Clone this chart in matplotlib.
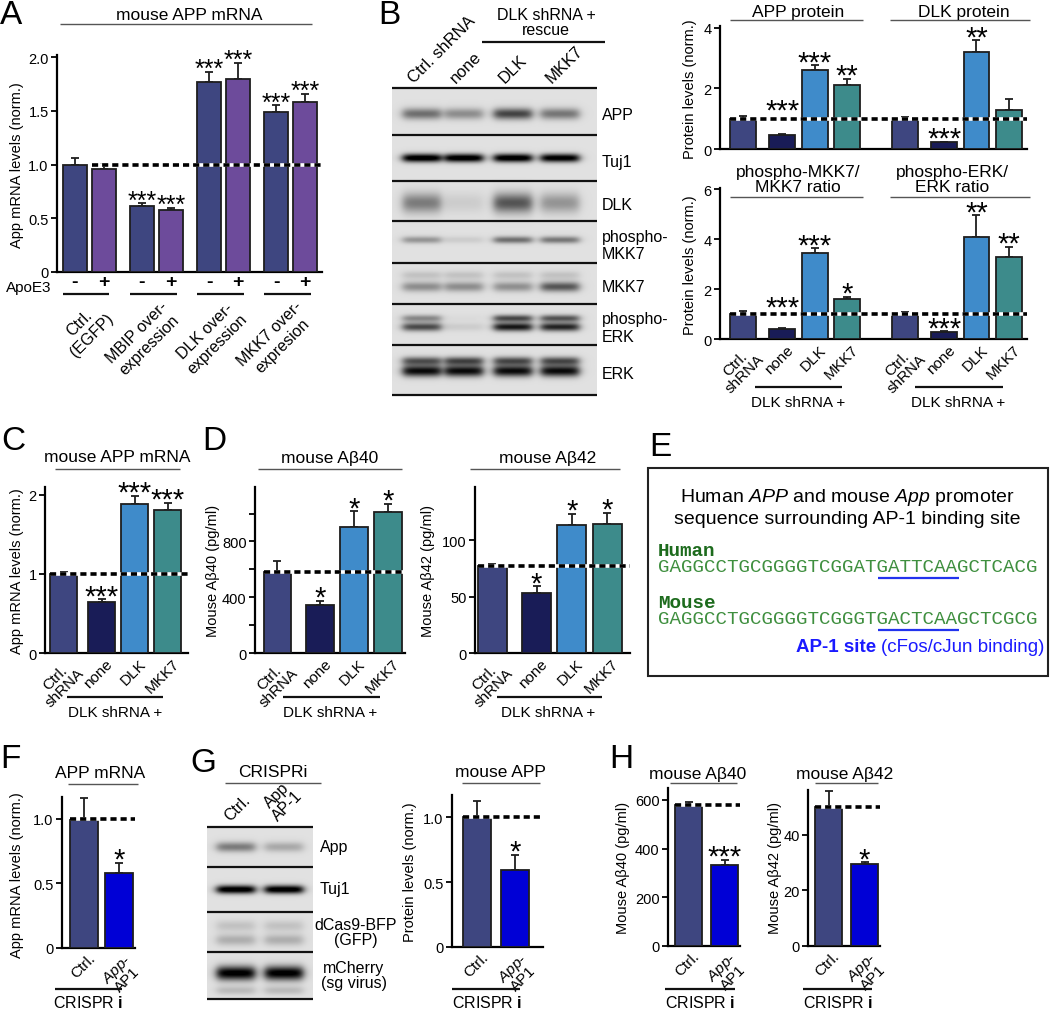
import numpy as np
import matplotlib
matplotlib.use("Agg")
import matplotlib.pyplot as plt
import matplotlib.transforms as mtrans

plt.rcParams['font.family'] = ['Liberation Sans', 'DejaVu Sans']
plt.rcParams['mathtext.fontset'] = 'custom'
plt.rcParams['mathtext.rm'] = 'Liberation Sans'
plt.rcParams['mathtext.it'] = 'Liberation Sans:italic'
plt.rcParams['mathtext.bf'] = 'Liberation Sans:bold'

# ---------------- data ----------------
# A: mouse APP mRNA, -/+ ApoE3
a_groups = ["Ctrl.\n(EGFP)", "MBIP over-\nexpression", "DLK over-\nexpression", "MKK7 over-\nexpresion"]
a_minus = [1.00, 0.61, 1.77, 1.49]
a_minus_err = [0.06, 0.03, 0.09, 0.06]
a_plus = [0.96, 0.58, 1.80, 1.58]
a_plus_err = [0.05, 0.02, 0.15, 0.08]
a_minus_stars = ["", "***", "***", "***"]
a_plus_stars = ["", "***", "***", "***"]

# B: western blot quantification (Ctrl shRNA, none, DLK, MKK7)
rescue_labels = ["Ctrl.\nshRNA", "none", "DLK", "MKK7"]
b_app = [1.00, 0.45, 2.60, 2.10]
b_app_err = [0.10, 0.03, 0.15, 0.20]
b_app_stars = ["", "***", "***", "**"]
b_app_star_y = [None, 1.15, None, None]   # star placed above the dashed line
b_dlk = [1.00, 0.22, 3.20, 1.28]
b_dlk_err = [0.05, 0.02, 0.38, 0.37]
b_dlk_stars = ["", "***", "**", ""]
b_pmkk7 = [1.00, 0.42, 3.45, 1.60]
b_pmkk7_err = [0.12, 0.03, 0.18, 0.10]
b_pmkk7_stars = ["", "***", "***", "*"]
b_pmkk7_star_y = [None, 1.15, None, None]
b_perk = [0.97, 0.28, 4.10, 3.30]
b_perk_err = [0.12, 0.03, 0.85, 0.40]
b_perk_stars = ["", "***", "**", "**"]

# B blot: band darkness per lane
blot_b_rows = ["APP", "Tuj1", "DLK", "phospho-\nMKK7", "MKK7", "phospho-\nERK", "ERK"]
blot_b_lanes = ["Ctrl. shRNA", "none", "DLK", "MKK7"]
band_app = [0.45, 0.33, 0.62, 0.42]
band_tuj1 = [0.97, 0.97, 0.97, 0.94]
band_dlk = [0.40, 0.08, 0.55, 0.30]
band_pmkk7 = [0.30, 0.08, 0.45, 0.42]
band_mkk7 = [0.33, 0.33, 0.32, 0.55]
band_perk_hi = [0.35, 0.02, 0.60, 0.55]
band_perk_lo = [0.60, 0.08, 0.80, 0.75]
band_erk_hi = [0.55, 0.60, 0.58, 0.58]
band_erk_lo = [0.85, 0.85, 0.85, 0.85]

# C / D
c_vals = [1.00, 0.64, 1.88, 1.81]
c_err = [0.03, 0.04, 0.11, 0.09]
c_stars = ["", "***", "***", "***"]
d40_vals = [580, 345, 900, 1010]
d40_err = [80, 30, 115, 60]
d40_stars = ["", "*", "*", "*"]
d42_vals = [77, 53, 113, 114]
d42_err = [2, 6, 10, 10]
d42_stars = ["", "*", "*", "*"]

# E: promoter sequences
seq_human = "GAGGCCTGCGGGGTCGGATGATTCAAGCTCACG"
seq_mouse = "GAGGCCTGCGGGGTCGGGTGACTCAAGCTCGCG"
ap1_start, ap1_end = 19, 26

# F / G / H: CRISPRi
crispr_labels = ["Ctrl.", "$\\mathit{App}$-\nAP1"]
f_vals = [0.99, 0.58]
f_err = [0.17, 0.08]
f_stars = ["", "*"]
g_vals = [1.00, 0.59]
g_err = [0.12, 0.12]
g_stars = ["", "*"]
h40_vals = [580, 333]
h40_err = [12, 22]
h40_stars = ["", "***"]
h42_vals = [50, 29.5]
h42_err = [5.5, 0.5]
h42_stars = ["", "*"]
blot_g_rows = ["App", "Tuj1", "dCas9-BFP\n(GFP)", "mCherry\n(sg virus)"]
blot_g_lanes = ["Ctrl.", "App\nAP-1"]
gband_app = [0.40, 0.22]
gband_tuj1 = [0.97, 0.97]
gband_cas_hi = [0.12, 0.12]
gband_cas_lo = [0.20, 0.20]
gband_mch = [0.92, 0.92]

# colours
C_CTRL = '#3e4680'
C_APOE = '#6d4b9b'
C_NONE = '#191c57'
C_DLK = '#3f8bca'
C_MKK7 = '#3d8b8b'
C_CRI = '#0000d6'
rescue_colors = [C_CTRL, C_NONE, C_DLK, C_MKK7]
crispr_colors = [C_CTRL, C_CRI]

W, H = 1050, 1012
fig = plt.figure(figsize=(W / 100, H / 100), dpi=100)


def mk(box, xlim, ylim, yt, ytl, minor=()):
    x0, y0, x1, y1 = box
    ax = fig.add_axes([x0 / W, 1 - y1 / H, (x1 - x0) / W, (y1 - y0) / H])
    ax.patch.set_alpha(0)
    ax.spines['top'].set_visible(False)
    ax.spines['right'].set_visible(False)
    ax.spines['left'].set_linewidth(1.6)
    ax.spines['bottom'].set_linewidth(1.6)
    ax.set_xlim(*xlim)
    ax.set_ylim(*ylim)
    ax.set_yticks(yt)
    ax.set_yticklabels(ytl)
    if len(minor):
        ax.set_yticks(minor, minor=True)
    ax.tick_params(axis='y', which='both', direction='out', length=4, width=1.3, labelsize=10.5, pad=2)
    ax.tick_params(axis='x', length=0, pad=2)
    return ax


def draw_bars(ax, x, vals, errs, colors, width, stars, ref=None, star_y=None, star_size=21):
    x = np.asarray(x, dtype=float)
    ax.bar(x, vals, width, color=colors, edgecolor='#1e1e1e', linewidth=1.3, zorder=3)
    ax.errorbar(x, vals, yerr=[np.zeros(len(vals)), errs], fmt='none', ecolor='#1e1e1e',
                elinewidth=1.3, capsize=3.2, capthick=1.3, zorder=2)
    if ref is not None:
        xa = x[0] - width / 2
        xb = ax.get_xlim()[1]
        ax.plot([xa, xb], [ref, ref], color='white', lw=2.6, zorder=4, solid_capstyle='butt')
        ax.plot([xa, xb], [ref, ref], color='black', lw=2.6, ls=(0, (1.7, 1.1)), zorder=5)
    if star_y is None:
        star_y = [None] * len(vals)
    for xi, v, e, s, sy in zip(x, vals, errs, stars, star_y):
        if s:
            y = v + e if sy is None else sy
            ax.annotate(s, (xi, y), xytext=(0, -3.5 * star_size / 21), textcoords='offset points',
                        ha='center', va='baseline', fontsize=star_size, zorder=6)


shift = mtrans.ScaledTranslation(4 / 100, 0, fig.dpi_scale_trans)


def xlabels(ax, x, labels, size=11):
    ax.set_xticks(x)
    ax.set_xticklabels(labels, rotation=45, ha='right', rotation_mode='anchor',
                       fontsize=size, multialignment='center', linespacing=0.95)
    for lab in ax.get_xticklabels():
        lab.set_transform(lab.get_transform() + shift)


# ---------------- A ----------------
gap = 2.33
a_x_minus = [g * gap for g in range(4)]
a_x_plus = [g * gap + 1 for g in range(4)]
axA = mk((57, 56, 322, 273), (-0.62, 3 * gap + 1.59), (0, 2.02),
         [0, 0.5, 1.0, 1.5, 2.0], ["0", "0.5", "1.0", "1.5", "2.0"])
draw_bars(axA, a_x_minus, a_minus, a_minus_err, C_CTRL, 0.83, a_minus_stars, star_size=18)
draw_bars(axA, a_x_plus, a_plus, a_plus_err, C_APOE, 0.83, a_plus_stars, ref=1.0, star_size=18)
axA.set_xticks(a_x_minus + a_x_plus)
axA.set_xticklabels(["-"] * 4 + ["+"] * 4, fontsize=14, fontweight='bold')
axA.tick_params(axis='x', pad=1)

# ---------------- B quantification ----------------
b_x = [0, 1.2, 2.2, 3.2, 5, 6.2, 7.2, 8.2]
b_xlim = (-0.72, 8.76)
axB1 = mk((720, 27, 1027, 150), b_xlim, (0, 4.05), [0, 2, 4], ["0", "2", "4"])
draw_bars(axB1, b_x, b_app + b_dlk, b_app_err + b_dlk_err, rescue_colors * 2, 0.8,
          b_app_stars + b_dlk_stars, ref=1.0, star_y=b_app_star_y + [None] * 4)
axB1.set_xticks([])
axB2 = mk((720, 189, 1027, 340), b_xlim, (0, 6.05), [0, 2, 4, 6], ["0", "2", "4", "6"])
draw_bars(axB2, b_x, b_pmkk7 + b_perk, b_pmkk7_err + b_perk_err, rescue_colors * 2, 0.8,
          b_pmkk7_stars + b_perk_stars, ref=1.0, star_y=b_pmkk7_star_y + [None] * 4)
xlabels(axB2, b_x, rescue_labels * 2)

# ---------------- C ----------------
cd_x = [0, 1.15, 2.15, 3.15]
axC = mk((45, 488, 188, 654), (-0.56, 3.76), (0, 2.1), [0, 1, 2], ["0", "1", "2"])
draw_bars(axC, cd_x, c_vals, c_err, rescue_colors, 0.82, c_stars, ref=1.0)
xlabels(axC, cd_x, rescue_labels)

# ---------------- D ----------------
d_x = [0, 1.25, 2.25, 3.25]
axD1 = mk((255, 488, 405, 654), (-0.66, 3.75), (0, 1190), [0, 400, 800], ["0", "400", "800"],
          minor=[200, 600, 1000])
draw_bars(axD1, d_x, d40_vals, d40_err, rescue_colors, 0.82, d40_stars, ref=d40_vals[0])
xlabels(axD1, d_x, rescue_labels)
axD2 = mk((475, 488, 630, 654), (-0.49, 3.89), (0, 147), [0, 50, 100], ["0", "50", "100"])
draw_bars(axD2, d_x, d42_vals, d42_err, rescue_colors, 0.82, d42_stars, ref=d42_vals[0])
xlabels(axD2, d_x, rescue_labels)

# ---------------- F / G / H ----------------
cr_x = [0, 1]
axF = mk((62, 798, 135, 949), (-0.63, 1.46), (0, 1.17), [0, 0.5, 1.0], ["0", "0.5", "1.0"])
draw_bars(axF, cr_x, f_vals, f_err, crispr_colors, 0.8, f_stars, ref=1.0)
xlabels(axF, cr_x, crispr_labels)
axG = mk((452, 796, 543, 948), (-0.66, 1.74), (0, 1.17), [0, 0.5, 1.0], ["0", "0.5", "1.0"])
draw_bars(axG, cr_x, g_vals, g_err, crispr_colors, 0.75, g_stars, ref=1.0)
xlabels(axG, cr_x, crispr_labels)
axH1 = mk((668, 789, 740, 947), (-0.57, 1.43), (0, 649), [0, 200, 400, 600], ["0", "200", "400", "600"])
draw_bars(axH1, cr_x, h40_vals, h40_err, crispr_colors, 0.75, h40_stars, ref=h40_vals[0])
xlabels(axH1, cr_x, crispr_labels)
axH2 = mk((808, 791, 880, 947), (-0.57, 1.43), (0, 56), [0, 20, 40], ["0", "20", "40"])
draw_bars(axH2, cr_x, h42_vals, h42_err, crispr_colors, 0.75, h42_stars, ref=h42_vals[0])
xlabels(axH2, cr_x, crispr_labels)

# ---------------- overlay in pixel coordinates ----------------
ov = fig.add_axes([0, 0, 1, 1])
ov.patch.set_alpha(0)
ov.axis('off')
ov.set_xlim(0, W)
ov.set_ylim(H, 0)
ov.set_autoscale_on(False)


def T(x, y, s, size=11, **kw):
    kw.setdefault('ha', 'center')
    kw.setdefault('va', 'center')
    return ov.text(x, y, s, fontsize=size, **kw)


def L(x0, x1, y, lw=1.0, color='#555555'):
    ov.plot([x0, x1], [y, y], color=color, lw=lw, solid_capstyle='butt')


def blot(x0, x1, bounds, lanes, hw, bands, bg=0.88):
    ys = np.arange(bounds[0], bounds[-1]) + 0.5
    xs = np.arange(x0, x1) + 0.5
    img = np.full((len(ys), len(xs)), bg)
    for row, yfrac, sig, ints in bands:
        yc = bounds[row] + yfrac * (bounds[row + 1] - bounds[row])
        gy = np.exp(-0.5 * ((ys - yc) / sig) ** 2)
        for lx, inten in zip(lanes, ints):
            gx = 1 / (1 + np.exp((np.abs(xs - lx) - hw) / 2.5))
            img -= inten * np.outer(gy, gx)
    img = np.clip(img, 0, 1)
    ov.imshow(img, cmap='gray', vmin=0, vmax=1, extent=(x0, x1, bounds[-1], bounds[0]),
              aspect='auto', interpolation='bilinear')
    for b in bounds:
        L(x0, x1, b, lw=1.6, color='#111111')


letter = dict(size=24)
T(11, 15, "A", **letter)
T(389, 15, "B", **letter)
T(13, 441, "C", **letter)
T(214, 441, "D", **letter)
T(660, 448, "E", **letter)
T(10, 760, "F", **letter)
T(203, 764, "G", **letter)
T(621, 760, "H", **letter)

# A texts
T(189, 15, "mouse APP mRNA", size=12.5)
L(60, 312, 25)
T(17, 165, "App mRNA levels (norm.)", size=10.5, rotation=90)
T(29, 288, "ApoE3", size=11)
for g in range(4):
    xl = axA.transData.transform((a_x_minus[g] - 0.42, 0))[0]
    xr = axA.transData.transform((a_x_plus[g] + 0.2, 0))[0]
    L(xl, xr, 295, lw=1.6, color='#111111')
    xc = axA.transData.transform(((a_x_minus[g] + a_x_plus[g]) / 2, 0))[0]
    T(xc + 4, 299, a_groups[g], size=11.5, rotation=45, ha='right', va='top',
      rotation_mode='anchor', multialignment='center')

# B blot
b_bounds = [89, 136, 182, 222, 264, 305, 346, 396]
b_lane_x = [422, 464, 513, 560]
blot(392, 597, b_bounds, b_lane_x, 19, [
    (0, 0.55, 4.0, band_app),
    (1, 0.50, 3.0, band_tuj1),
    (2, 0.55, 7.0, band_dlk),
    (3, 0.45, 2.5, band_pmkk7),
    (4, 0.30, 3.0, [0.12] * 4),
    (4, 0.58, 3.5, band_mkk7),
    (5, 0.35, 2.5, band_perk_hi),
    (5, 0.56, 3.0, band_perk_lo),
    (6, 0.32, 3.0, band_erk_hi),
    (6, 0.52, 4.0, band_erk_lo),
])
for i, name in enumerate(blot_b_rows):
    T(602, (b_bounds[i] + b_bounds[i + 1]) / 2 + 3, name, size=11.5, ha='left')
for lx, name in zip(b_lane_x, blot_b_lanes):
    T(lx - 8, 84, name, size=12, rotation=45, ha='left', va='baseline', rotation_mode='anchor')
T(546, 23, "DLK shRNA +\nrescue", size=11.5, linespacing=1.0)
L(482, 605, 43, lw=1.6, color='#111111')

# B quant texts
T(798, 12, "APP protein", size=12.5)
L(730, 863, 21)
T(964, 12, "DLK protein", size=12.5)
L(890, 1030, 21)
T(798, 180, "phospho-MKK7/\nMKK7 ratio", size=12.5, linespacing=1.0)
L(730, 863, 198)
T(952, 180, "phospho-ERK/\nERK ratio", size=12.5, linespacing=1.0)
L(890, 1030, 198)
T(690, 89, "Protein levels (norm.)", size=10.5, rotation=90)
T(690, 265, "Protein levels (norm.)", size=10.5, rotation=90)
L(755, 842, 388, lw=1.6, color='#111111')
T(798, 403, "DLK shRNA +", size=11)
L(915, 1003, 388, lw=1.6, color='#111111')
T(958, 403, "DLK shRNA +", size=11)

# C / D texts
T(117, 458, "mouse APP mRNA", size=12.5)
L(55, 180, 470)
T(17, 571, "App mRNA levels (norm.)", size=10.5, rotation=90)
L(67, 163, 698, lw=1.6, color='#111111')
T(115, 713, "DLK shRNA +", size=11)
T(330, 458, "mouse A\u03b240", size=12.5)
L(258, 402, 470)
T(213, 571, "Mouse A\u03b240 (pg/ml)", size=10.5, rotation=90)
L(283, 380, 698, lw=1.6, color='#111111')
T(330, 713, "DLK shRNA +", size=11)
T(548, 458, "mouse A\u03b242", size=12.5)
L(470, 620, 470)
T(428, 571, "Mouse A\u03b242 (pg/ml)", size=10.5, rotation=90)
L(497, 602, 698, lw=1.6, color='#111111')
T(548, 713, "DLK shRNA +", size=11)

# E box
ov.add_patch(plt.Rectangle((648, 469), 400, 208, fill=False, lw=1.5, ec='#222222'))
T(847, 497, "Human $\\mathit{APP}$ and mouse $\\mathit{App}$ promoter", size=14)
T(847, 520, "sequence surrounding AP-1 binding site", size=14)
seq_size = 13.9
cw = seq_size * 100 / 72 * 0.6
green = '#3f8f3f'
T(658, 551, "Human", size=seq_size, ha='left', family='Liberation Mono', fontweight='bold', color='#1d6b1d')
T(658, 568, seq_human, size=seq_size, ha='left', family='Liberation Mono', color=green)
T(658, 603, "Mouse", size=seq_size, ha='left', family='Liberation Mono', fontweight='bold', color='#1d6b1d')
T(658, 620, seq_mouse, size=seq_size, ha='left', family='Liberation Mono', color=green)
L(658 + ap1_start * cw, 658 + ap1_end * cw, 579, lw=1.6, color='#2233ee')
L(658 + ap1_start * cw, 658 + ap1_end * cw, 631, lw=1.6, color='#2233ee')
t_bind = T(1044, 647, "(cFos/cJun binding)", size=13.5, ha='right', color='#1a1aff')
fig.canvas.draw()
bb = t_bind.get_window_extent()
x_bind = ov.transData.inverted().transform((bb.x0, bb.y0))[0]
T(x_bind - 4, 647, "AP-1 site", size=13.5, ha='right', color='#1a1aff', fontweight='bold')

# F texts
T(100, 774, "APP mRNA", size=12.5)
L(68, 138, 785)
T(17, 875, "App mRNA levels (norm.)", size=10.5, rotation=90)
L(55, 122, 990, lw=1.6, color='#111111')
T(88, 1003, "CRISPR $\\mathbf{i}$", size=11.5)

# G blot
g_bounds = [828, 868, 913, 953, 1000]
g_lane_x = [236, 284]
blot(207, 313, g_bounds, g_lane_x, 19, [
    (0, 0.50, 3.5, gband_app),
    (1, 0.50, 3.0, gband_tuj1),
    (2, 0.35, 4.0, gband_cas_hi),
    (2, 0.70, 4.0, gband_cas_lo),
    (3, 0.45, 5.0, gband_mch),
    (3, 0.82, 3.0, [0.15, 0.15]),
])
T(320, 848, blot_g_rows[0], size=11.5, ha='left')
T(320, 890, blot_g_rows[1], size=11.5, ha='left')
T(356, 933, blot_g_rows[2], size=11.5, linespacing=1.0)
T(354, 976, blot_g_rows[3], size=11.5, linespacing=1.0)
for lx, name in zip(g_lane_x, blot_g_lanes):
    T(lx - 6, 822, name, size=11.5, rotation=45, ha='left', va='baseline', rotation_mode='anchor',
      multialignment='center', linespacing=0.95)
T(273, 773, "CRISPRi", size=12.5)
L(225, 321, 784)

# G quant texts
T(500, 773, "mouse APP", size=12.5)
L(462, 540, 784)
T(410, 872, "Protein levels (norm.)", size=10.5, rotation=90)
L(452, 520, 990, lw=1.6, color='#111111')
T(487, 1003, "CRISPR $\\mathbf{i}$", size=11.5)

# H texts
T(698, 775, "mouse A\u03b240", size=12.5)
L(670, 737, 784)
T(623, 868, "Mouse A\u03b240 (pg/ml)", size=10.5, rotation=90)
L(665, 735, 990, lw=1.6, color='#111111')
T(700, 1003, "CRISPR $\\mathbf{i}$", size=11.5)
T(845, 775, "mouse A\u03b242", size=12.5)
L(815, 878, 784)
T(775, 868, "Mouse A\u03b242 (pg/ml)", size=10.5, rotation=90)
L(803, 872, 990, lw=1.6, color='#111111')
T(838, 1003, "CRISPR $\\mathbf{i}$", size=11.5)

ov.set_xlim(0, W)
ov.set_ylim(H, 0)

fig.savefig("out.png", dpi=100)
